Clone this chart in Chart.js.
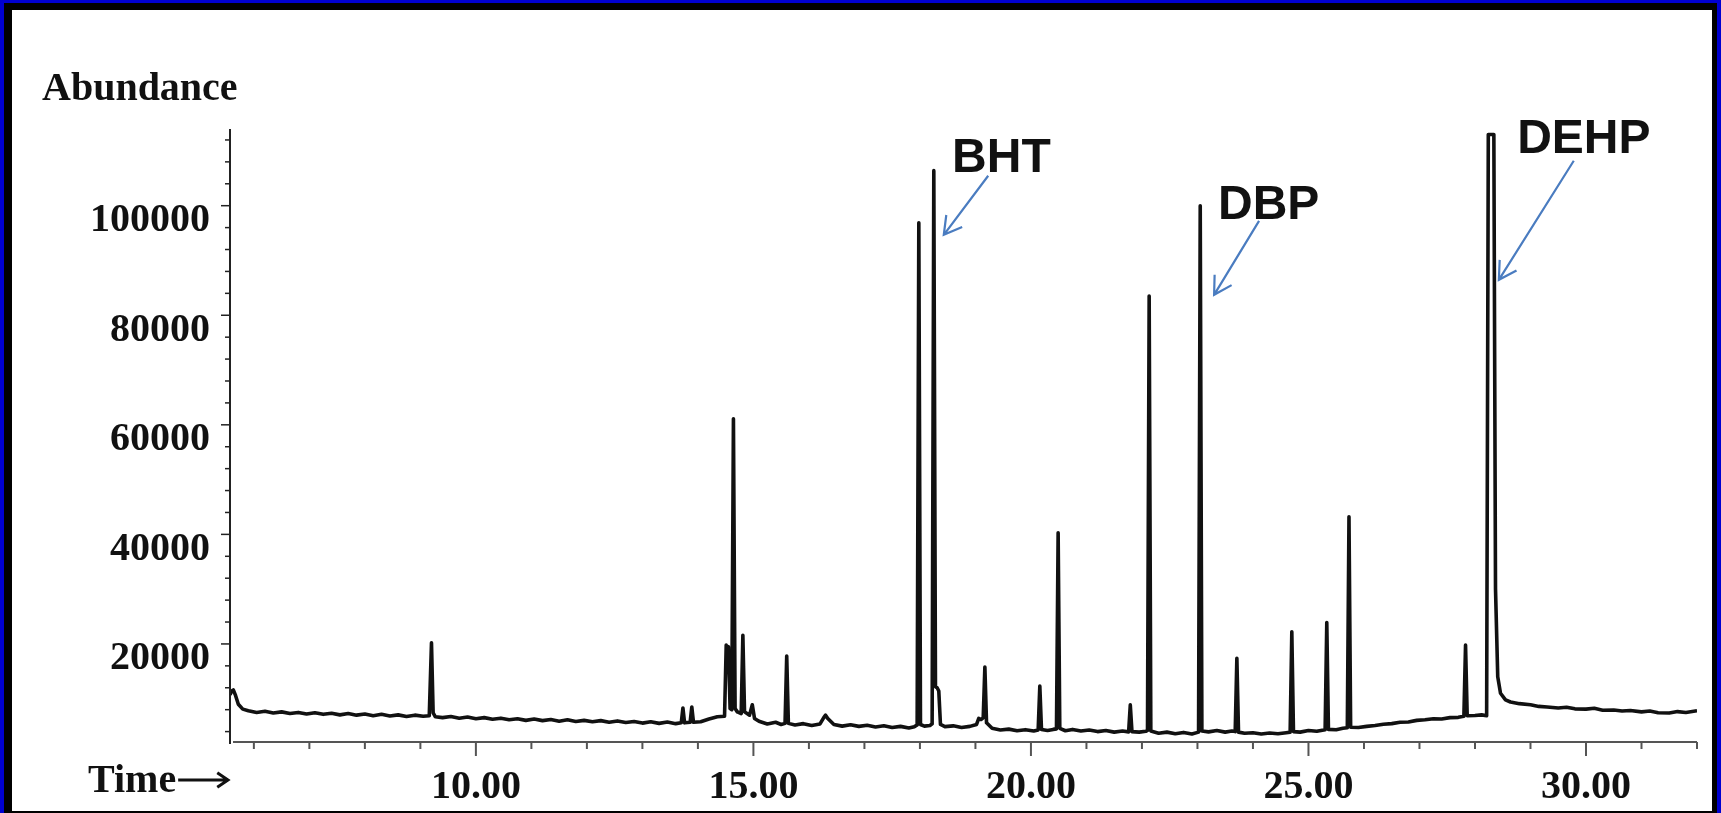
<!DOCTYPE html>
<html>
<head>
<meta charset="utf-8">
<script src="https://cdn.jsdelivr.net/npm/chart.js@4/dist/chart.umd.min.js"></script>
<style>
  html, body { margin: 0; padding: 0; }
  body { width: 1721px; height: 813px; background: #0000d0; position: relative; overflow: hidden; }
  .frame { position: absolute; left: 4px; top: 3px; width: 1713px; height: 810px; background: #000; }
  .paper { position: absolute; left: 12px; top: 10px; width: 1700px; height: 801px; background: #fff; }
  #chrom { position: absolute; left: 0; top: 0; }
</style>
</head>
<body>
<div class="frame"></div>
<div class="paper"></div>
<canvas id="chrom" width="1721" height="813"></canvas>
<script>
// total ion chromatogram
const traceTime = [
  5.57, 5.60, 5.63, 5.67, 5.72, 5.80, 5.90, 6.05, 6.20, 6.35, 6.50, 6.65, 6.80, 6.95,
  7.10, 7.25, 7.40, 7.55, 7.70, 7.85, 8.00, 8.15, 8.30, 8.45, 8.60, 8.75, 8.90, 9.05,
  9.16, 9.20, 9.23, 9.27, 9.40, 9.55, 9.70, 9.85, 10.00, 10.15, 10.30, 10.45, 10.60,
  10.75, 10.90, 11.05, 11.20, 11.35, 11.50, 11.65, 11.80, 11.95, 12.10, 12.25, 12.40,
  12.55, 12.70, 12.85, 13.00, 13.15, 13.30, 13.45, 13.60, 13.70, 13.73, 13.76, 13.86,
  13.89, 13.92, 14.05, 14.20, 14.35, 14.48, 14.51, 14.53, 14.55, 14.58, 14.61, 14.64,
  14.67, 14.71, 14.78, 14.81, 14.84, 14.93, 14.98, 15.02, 15.10, 15.25, 15.40, 15.50,
  15.57, 15.60, 15.63, 15.75, 15.90, 16.05, 16.20, 16.27, 16.30, 16.34, 16.45, 16.60,
  16.75, 16.90, 17.05, 17.20, 17.35, 17.50, 17.65, 17.80, 17.90, 17.95, 17.98, 18.01,
  18.08, 18.18, 18.22, 18.25, 18.28, 18.31, 18.34, 18.37, 18.45, 18.60, 18.75, 18.90,
  19.02, 19.06, 19.10, 19.14, 19.17, 19.20, 19.30, 19.45, 19.60, 19.75, 19.90, 20.05,
  20.13, 20.16, 20.19, 20.30, 20.40, 20.46, 20.49, 20.52, 20.62, 20.75, 20.90, 21.05,
  21.20, 21.35, 21.50, 21.65, 21.76, 21.79, 21.82, 21.95, 22.07, 22.10, 22.13, 22.16,
  22.30, 22.45, 22.60, 22.75, 22.90, 23.02, 23.05, 23.08, 23.20, 23.35, 23.50, 23.62,
  23.68, 23.71, 23.74, 23.85, 24.00, 24.15, 24.30, 24.45, 24.60, 24.67, 24.70, 24.73,
  24.85, 25.00, 25.15, 25.30, 25.33, 25.36, 25.50, 25.62, 25.70, 25.73, 25.76, 25.90,
  26.05, 26.20, 26.35, 26.50, 26.65, 26.80, 26.95, 27.10, 27.25, 27.40, 27.55, 27.70,
  27.80, 27.83, 27.86, 28.00, 28.12, 28.21, 28.24, 28.34, 28.37, 28.41, 28.46, 28.55,
  28.64, 28.80, 29.00, 29.15, 29.30, 29.50, 29.65, 29.80, 30.00, 30.15, 30.30, 30.50,
  30.65, 30.80, 31.00, 31.15, 31.30, 31.50, 31.65, 31.80, 32.00
];
const traceAbundance = [
  10700, 11400, 11600, 10600, 9000, 8100, 7800, 7500, 7700, 7400, 7600, 7300, 7500, 7200,
  7450, 7150, 7350, 7050, 7300, 7000, 7200, 6900, 7150, 6850, 7050, 6750, 7000, 6800,
  6900, 20200, 7400, 6700, 6550, 6750, 6450, 6650, 6350, 6550, 6250, 6450, 6150,
  6350, 6050, 6300, 6000, 6200, 5900, 6150, 5850, 6050, 5800, 6000, 5700,
  5950, 5650, 5850, 5550, 5800, 5500, 5750, 5450, 5600, 8300, 5600, 5700,
  8500, 5700, 5800, 6300, 6700, 6800, 19800, 17500, 19500, 8200, 8000, 61100,
  8200, 7600, 7300, 21600, 7600, 7000, 8900, 6400, 5900, 5400, 5700, 5300,
  5500, 17800, 5500, 5200, 5450, 5100, 5400, 6600, 7000, 6400, 5300, 5000,
  5250, 4950, 5150, 4850, 5050, 4750, 4950, 4650, 4900, 5200, 96900, 5300,
  5000, 5100, 5400, 106400, 12200, 12000, 11400, 5300, 4900, 5050, 4750, 4950,
  5300, 6400, 6200, 6500, 15800, 5600, 4600, 4300, 4450, 4150, 4350, 4100,
  4300, 12300, 4400, 4200, 4400, 4500, 40300, 4600, 4150, 4400, 4100, 4300,
  4000, 4200, 3900, 4100, 3950, 8900, 4000, 3900, 4050, 4200, 83500, 4100,
  3700, 3900, 3600, 3850, 3550, 3900, 100000, 4100, 3950, 4200, 3900, 4100,
  4000, 17400, 3900, 3700, 3800, 3550, 3750, 3600, 3800, 3900, 22200, 4000,
  3900, 4200, 4050, 4350, 23900, 4400, 4350, 4600, 4700, 43200, 4800, 4750,
  4950, 5100, 5350, 5450, 5700, 5750, 6050, 6150, 6350, 6300, 6550, 6600,
  6800, 19800, 6900, 6950, 7050, 6900, 113000, 113000, 30000, 14000, 11000, 9800,
  9400, 9100, 8900, 8600, 8500, 8300, 8450, 8150, 8100, 8250, 7900, 7950,
  7750, 7850, 7600, 7750, 7450, 7400, 7650, 7500, 7800
];

const xMin = 5.57;
const xMax = 32.0;
const yMin = 2100;
const yMax = 114000;

const xMajorTicks = [10, 15, 20, 25, 30];
const xMinorTicks = [6, 7, 8, 9, 10, 11, 12, 13, 14, 15, 16, 17, 18, 19, 20, 21, 22, 23, 24, 25, 26, 27, 28, 29, 30, 31, 32];
const yMajorTicks = [20000, 40000, 60000, 80000, 100000];
const yMinorTicks = [4000, 8000, 12000, 16000, 20000, 24000, 28000, 32000, 36000, 40000, 44000, 48000,
  52000, 56000, 60000, 64000, 68000, 72000, 76000, 80000, 84000, 88000, 92000, 96000, 100000,
  104000, 108000, 112000];

// compound labels with their arrows
const peakNames = ["BHT", "DBP", "DEHP"];
const nameTime = [18.58, 23.37, 28.76];
const nameAbundance = [106200, 97600, 109650];
const arrowFromTime = [19.23, 24.11, 29.78];
const arrowFromAbundance = [105460, 97240, 108200];
const arrowToTime = [18.43, 23.30, 28.43];
const arrowToAbundance = [94680, 83730, 86470];

const serif = "'Liberation Serif', 'Times New Roman', serif";
const sans = "'Liberation Sans', Arial, sans-serif";
const arrowBlue = "#4a7cc0";

function drawArrow(ctx, x0, y0, x1, y1, head, spread) {
  const ang = Math.atan2(y0 - y1, x0 - x1);
  ctx.beginPath();
  ctx.moveTo(x0, y0);
  ctx.lineTo(x1, y1);
  ctx.moveTo(x1 + head * Math.cos(ang + spread), y1 + head * Math.sin(ang + spread));
  ctx.lineTo(x1, y1);
  ctx.lineTo(x1 + head * Math.cos(ang - spread), y1 + head * Math.sin(ang - spread));
  ctx.stroke();
}

const chromPlugin = {
  id: "chrom",
  afterDraw(chart) {
    const { ctx, chartArea } = chart;
    const x = chart.scales.x;
    const y = chart.scales.y;
    ctx.save();

    // axes
    ctx.lineCap = "butt";
    ctx.strokeStyle = "#222";
    ctx.lineWidth = 2;
    ctx.beginPath();
    ctx.moveTo(chartArea.left, chartArea.top);
    ctx.lineTo(chartArea.left, chartArea.bottom + 2);
    ctx.stroke();
    ctx.strokeStyle = "#555";
    ctx.beginPath();
    ctx.moveTo(chartArea.left + 3, chartArea.bottom);
    ctx.lineTo(chartArea.right, chartArea.bottom);
    ctx.stroke();

    xMinorTicks.forEach((v) => {
      const px = x.getPixelForValue(v);
      const len = xMajorTicks.includes(v) ? 14 : 7;
      ctx.beginPath();
      ctx.moveTo(px, chartArea.bottom);
      ctx.lineTo(px, chartArea.bottom + len);
      ctx.stroke();
    });
    ctx.strokeStyle = "#222";
    ctx.lineWidth = 1.5;
    yMinorTicks.forEach((v) => {
      const py = y.getPixelForValue(v);
      const len = yMajorTicks.includes(v) ? 9 : 5;
      ctx.beginPath();
      ctx.moveTo(chartArea.left, py);
      ctx.lineTo(chartArea.left - len, py);
      ctx.stroke();
    });

    // axis captions
    ctx.fillStyle = "#111";
    ctx.font = "bold 40px " + serif;
    ctx.textAlign = "left";
    ctx.textBaseline = "alphabetic";
    ctx.fillText("Abundance", 42, 100);
    ctx.fillText("Time", 88, 792);
    const tw = ctx.measureText("Time").width;
    ctx.strokeStyle = "#111";
    ctx.lineWidth = 3;
    drawArrow(ctx, 88 + tw + 2, 780, 228, 780, 13, 0.6);

    // compound names and arrows
    ctx.font = "bold 48px " + sans;
    peakNames.forEach((name, i) => {
      ctx.fillStyle = "#111";
      ctx.fillText(name, x.getPixelForValue(nameTime[i]), y.getPixelForValue(nameAbundance[i]));
      ctx.strokeStyle = arrowBlue;
      ctx.lineWidth = 2.2;
      drawArrow(
        ctx,
        x.getPixelForValue(arrowFromTime[i]),
        y.getPixelForValue(arrowFromAbundance[i]),
        x.getPixelForValue(arrowToTime[i]),
        y.getPixelForValue(arrowToAbundance[i]),
        20,
        0.52
      );
    });
    ctx.restore();
  },
};

new Chart(document.getElementById("chrom"), {
  type: "line",
  data: {
    datasets: [
      {
        data: traceTime.map((t, i) => ({ x: t, y: traceAbundance[i] })),
        borderColor: "#111",
        borderWidth: 3.6,
        pointRadius: 0,
        tension: 0,
        fill: false,
        borderJoinStyle: "round",
      },
    ],
  },
  options: {
    responsive: false,
    animation: false,
    layout: { padding: { left: 0, right: 24, top: 129, bottom: 0 } },
    plugins: {
      legend: { display: false },
      tooltip: { enabled: false },
    },
    scales: {
      x: {
        type: "linear",
        min: xMin,
        max: xMax,
        afterBuildTicks: (scale) => {
          scale.ticks = xMajorTicks.map((v) => ({ value: v }));
        },
        afterFit: (scale) => {
          scale.height = 71;
        },
        grid: { display: false, drawTicks: false },
        border: { display: false },
        ticks: {
          color: "#111",
          padding: 22,
          maxRotation: 0,
          autoSkip: false,
          font: { family: serif, weight: "bold", size: 40 },
          callback: (value) => Number(value).toFixed(2),
        },
      },
      y: {
        min: yMin,
        max: yMax,
        afterBuildTicks: (scale) => {
          scale.ticks = yMajorTicks.map((v) => ({ value: v }));
        },
        afterFit: (scale) => {
          scale.width = 230;
        },
        grid: { display: false, drawTicks: false },
        border: { display: false },
        ticks: {
          color: "#111",
          padding: 20,
          labelOffset: 15,
          autoSkip: false,
          font: { family: serif, weight: "bold", size: 40 },
          callback: (value) => String(value),
        },
      },
    },
  },
  plugins: [chromPlugin],
});
</script>
</body>
</html>
